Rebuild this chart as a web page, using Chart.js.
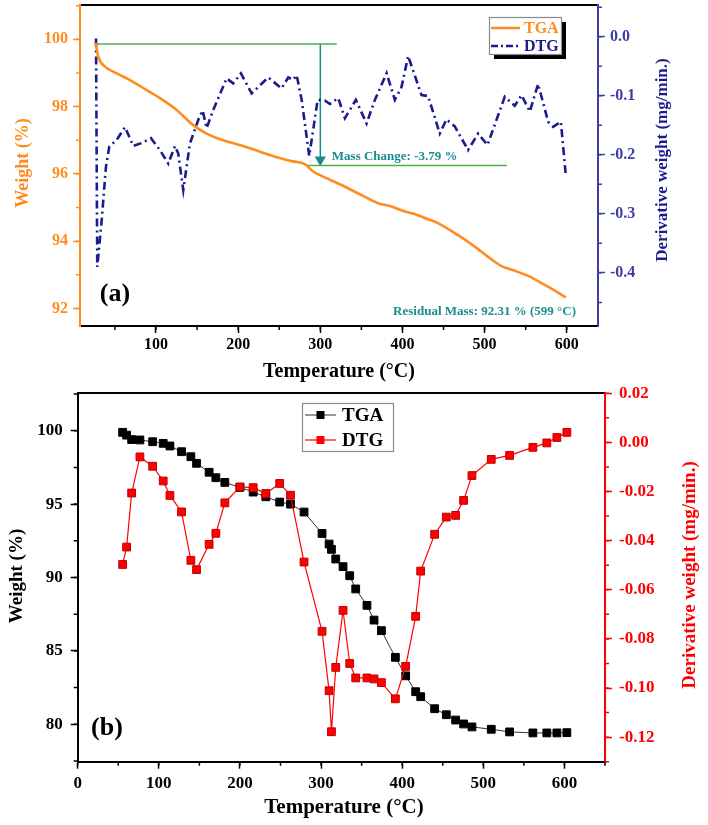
<!DOCTYPE html>
<html>
<head>
<meta charset="utf-8">
<script src="https://cdn.jsdelivr.net/npm/chart.js@4.4.1/dist/chart.umd.min.js"></script>
<style>
    html, body { margin: 0; padding: 0; background: #fff; }
    body { width: 708px; height: 825px; position: relative; overflow: hidden; }
    .panel { position: absolute; left: 0; width: 708px; }
    #box-a { top: -20px; height: 412px; }
    #box-b { top: 370px; height: 455px; }
</style>
</head>
<body>
<div class="panel" id="box-a"><canvas id="chart-a"></canvas></div>
<div class="panel" id="box-b"><canvas id="chart-b"></canvas></div>
<script>
// ---- panel (a): continuous TGA / DTG ----
const tgaTempA = [26.5, 27, 29.8, 37.9, 52.1, 68.3, 88.6, 104.8, 125.1, 145.3, 161.6, 181.8, 206.2, 226.5, 244.7, 265, 281.2, 291.3, 301.5, 325.8, 350.1, 370.4, 386.6, 402.9, 415, 431.2, 439.4, 467.7, 488, 508.3, 520.5, 536.7, 552.9, 573.2, 585.4, 598.7];
const tgaWeightA = [99.9, 99.83, 99.48, 99.19, 98.99, 98.79, 98.49, 98.25, 97.9, 97.45, 97.2, 97.0, 96.83, 96.66, 96.51, 96.38, 96.29, 96.07, 95.94, 95.67, 95.37, 95.13, 95.03, 94.88, 94.81, 94.65, 94.58, 94.18, 93.84, 93.46, 93.26, 93.12, 92.97, 92.7, 92.53, 92.33];

const dtgTempA = [27, 28.5, 33.9, 39.1, 43.2, 52.1, 62.3, 72.3, 82.6, 93.9, 104.8, 115, 123.1, 127.1, 133.2, 141.3, 151.4, 156.8, 161.6, 169.7, 186, 194, 203.4, 216.4, 236.6, 252.9, 261, 267, 271.2, 277.3, 286.5, 291.3, 296.7, 305.5, 311.6, 321.8, 329.9, 343.3, 356.3, 366.4, 380.7, 390.7, 398.9, 406.9, 423.2, 431.2, 445.4, 453.6, 463.7, 479.9, 492.1, 503.5, 524.5, 536.7, 544.9, 555, 565.1, 577.3, 583.4, 592.8, 598.6];
const dtgRateA = [-0.003, -0.39, -0.311, -0.22, -0.186, -0.175, -0.153, -0.185, -0.18, -0.172, -0.192, -0.215, -0.185, -0.198, -0.26, -0.181, -0.141, -0.125, -0.155, -0.124, -0.0705, -0.079, -0.062, -0.096, -0.069, -0.0875, -0.069, -0.073, -0.065, -0.107, -0.202, -0.158, -0.107, -0.108, -0.114, -0.104, -0.138, -0.107, -0.147, -0.107, -0.062, -0.107, -0.085, -0.0327, -0.099, -0.1005, -0.164, -0.14, -0.152, -0.192, -0.164, -0.1835, -0.1017, -0.117, -0.099, -0.127, -0.08, -0.144, -0.1525, -0.144, -0.2315];

// mass change marker lines (temperature, weight)
const startLineTemp = [28, 320];
const startLineWeight = [99.86, 99.86];
const endLineTemp = [284, 527];
const endLineWeight = [96.25, 96.25];
const arrowTemp = [300, 300];
const arrowWeight = [99.86, 96.42];

// ---- panel (b): TGA / DTG with markers ----
const tempB = [55.4, 60.3, 66.5, 76.7, 92.4, 105.4, 113.7, 128, 139.5, 146.5, 162, 170.3, 181.4, 200, 216.3, 231.9, 249, 262.3, 279, 301.2, 309.9, 312.8, 318.1, 327.1, 335.3, 342.7, 356.6, 365.3, 374.4, 391.6, 404.3, 416.6, 422.8, 440, 454.4, 465.9, 475.7, 486, 509.8, 532.4, 561.1, 578.3, 590.7, 603];
const tgaWeightB = [99.89, 99.7, 99.4, 99.37, 99.25, 99.14, 98.96, 98.57, 98.23, 97.78, 97.17, 96.8, 96.48, 96.14, 95.82, 95.5, 95.14, 95.0, 94.46, 93.0, 92.28, 91.92, 91.26, 90.74, 90.12, 89.22, 88.1, 87.1, 86.38, 84.56, 83.3, 82.22, 81.88, 81.06, 80.65, 80.29, 80.02, 79.82, 79.66, 79.48, 79.41, 79.41, 79.41, 79.43];
const dtgRateB = [-0.0497, -0.0426, -0.0206, -0.0059, -0.0097, -0.0157, -0.0216, -0.0283, -0.048, -0.0518, -0.0415, -0.037, -0.0246, -0.0181, -0.0184, -0.0208, -0.0167, -0.0215, -0.0487, -0.0769, -0.1011, -0.1178, -0.0916, -0.0684, -0.09, -0.0959, -0.0959, -0.0963, -0.0978, -0.1044, -0.0912, -0.0708, -0.0524, -0.0374, -0.0304, -0.0297, -0.0236, -0.0135, -0.0069, -0.0053, -0.002, -0.0002, 0.002, 0.0041];

const SERIF = "'Liberation Serif', 'Times New Roman', serif";
const ORANGE = "#ff8c1f";
const NAVY = "#1b1b8f";
const NAVY_AXIS = "#3d3da6";
const GREEN = "#4cae4c";
const TEAL = "#198c8c";
const RED = "#ff0000";

function points(xs, ys) {
    return xs.map((x, i) => ({ x: x, y: ys[i] }));
}

function bold(size) {
    return { family: SERIF, size: size, weight: "bold" };
}

function axis(position, min, max, step, color, size, pad, fit, fmt) {
    const horizontal = position === "bottom";
    return {
        type: "linear",
        position: position,
        min: min,
        max: max,
        afterFit: (s) => { if (horizontal) s.height = fit; else s.width = fit; },
        border: { color: color, width: 2 },
        grid: { drawOnChartArea: false, tickLength: 7, tickColor: color, tickWidth: 1.5 },
        ticks: {
            stepSize: step,
            includeBounds: false,
            color: color,
            padding: pad,
            maxRotation: 0,
            font: bold(size),
            callback: fmt || ((v) => String(v))
        }
    };
}

function topFrame(min, max, fit) {
    return {
        type: "linear",
        position: "top",
        min: min,
        max: max,
        afterFit: (s) => { s.height = fit; },
        border: { color: "#000", width: 2 },
        grid: { display: false },
        ticks: { display: false }
    };
}

function drawMinor(chart, id, step, len, color) {
    const s = chart.scales[id];
    const ctx = chart.ctx;
    ctx.save();
    ctx.strokeStyle = color;
    ctx.lineWidth = 1.5;
    ctx.beginPath();
    const first = Math.ceil(s.min / step) * step;
    for (let v = first; v <= s.max + 1e-9; v += step) {
        const p = s.getPixelForValue(v);
        if (s.isHorizontal()) {
            ctx.moveTo(p, s.top);
            ctx.lineTo(p, s.top + len);
        } else if (s.position === "left") {
            ctx.moveTo(s.right, p);
            ctx.lineTo(s.right - len, p);
        } else {
            ctx.moveTo(s.left, p);
            ctx.lineTo(s.left + len, p);
        }
    }
    ctx.stroke();
    ctx.restore();
}

// texts, notes, legend and minor ticks; cfg.top converts page y to canvas y
function decor(cfg) {
    return {
        id: "decor",
        afterDraw(chart) {
            const ctx = chart.ctx;
            const dy = cfg.top;

            for (const [id, step, len, color] of cfg.minor) {
                drawMinor(chart, id, step, len, color);
            }

            for (const n of cfg.notes) {
                ctx.save();
                ctx.font = n.font;
                ctx.fillStyle = n.color;
                ctx.textAlign = "left";
                ctx.textBaseline = "middle";
                ctx.fillText(n.text, chart.scales.x.getPixelForValue(n.x), chart.scales.y.getPixelForValue(n.y));
                ctx.restore();
            }

            for (const t of cfg.texts) {
                ctx.save();
                ctx.translate(t.x, t.y - dy);
                ctx.rotate(t.rot || 0);
                ctx.font = t.font;
                ctx.fillStyle = t.color;
                ctx.textAlign = "center";
                ctx.textBaseline = "middle";
                ctx.fillText(t.text, 0, 0);
                ctx.restore();
            }

            const lg = cfg.legend;
            const bx = lg.x, by = lg.y - dy;
            ctx.save();
            if (lg.shadow) {
                ctx.fillStyle = "#000";
                ctx.fillRect(bx + lg.shadow, by + lg.shadow, lg.w, lg.h);
            }
            ctx.fillStyle = "#fff";
            ctx.fillRect(bx, by, lg.w, lg.h);
            ctx.strokeStyle = "#8a8a8a";
            ctx.lineWidth = 1.2;
            ctx.strokeRect(bx + 0.5, by + 0.5, lg.w, lg.h);
            lg.items.forEach((it, i) => {
                const y = by + lg.rows[i];
                ctx.strokeStyle = it.color;
                ctx.lineWidth = it.width;
                ctx.setLineDash(it.dash || []);
                ctx.beginPath();
                ctx.moveTo(bx + lg.line[0], y);
                ctx.lineTo(bx + lg.line[1], y);
                ctx.stroke();
                ctx.setLineDash([]);
                if (it.marker) {
                    const mx = bx + (lg.line[0] + lg.line[1]) / 2;
                    ctx.fillStyle = it.marker;
                    ctx.fillRect(mx - 4, y - 4, 8, 8);
                }
                ctx.font = lg.font;
                ctx.fillStyle = it.text;
                ctx.textAlign = "left";
                ctx.textBaseline = "middle";
                ctx.fillText(it.label, bx + lg.textX, y + 1);
            });
            ctx.restore();
        }
    };
}

const baseOptions = {
    responsive: true,
    maintainAspectRatio: false,
    animation: false,
    events: [],
    layout: { padding: 0 },
    plugins: { legend: { display: false }, tooltip: { enabled: false } }
};

// ---------- chart (a) ----------
new Chart(document.getElementById("chart-a"), {
    type: "line",
    data: {
        datasets: [
            {
                data: points(tgaTempA, tgaWeightA),
                yAxisID: "y",
                borderColor: ORANGE,
                borderWidth: 2.6,
                pointRadius: 0,
                tension: 0.4,
                cubicInterpolationMode: "monotone"
            },
            {
                data: points(dtgTempA, dtgRateA),
                yAxisID: "y2",
                borderColor: NAVY,
                borderWidth: 2.6,
                borderDash: [8, 4, 2, 4],
                pointRadius: 0,
                tension: 0
            },
            {
                data: points(startLineTemp, startLineWeight),
                yAxisID: "y",
                borderColor: GREEN,
                borderWidth: 1.5,
                pointRadius: 0
            },
            {
                data: points(endLineTemp, endLineWeight),
                yAxisID: "y",
                borderColor: GREEN,
                borderWidth: 1.5,
                pointRadius: 0
            },
            {
                data: points(arrowTemp, arrowWeight),
                yAxisID: "y",
                borderColor: TEAL,
                borderWidth: 1.5,
                pointRadius: [0, 5],
                pointStyle: "triangle",
                rotation: 180,
                pointBackgroundColor: TEAL,
                pointBorderColor: TEAL
            }
        ]
    },
    options: {
        ...baseOptions,
        scales: {
            x: axis("bottom", 7.5, 638, 100, "#000", 16, 2, 66),
            x2: topFrame(7.5, 638, 25),
            y: axis("left", 91.48, 101.02, 2, ORANGE, 16, 5, 80),
            y2: axis("right", -0.49, 0.0537, 0.1, NAVY_AXIS, 16, 5, 110,
                (v) => (Math.abs(v) < 1e-9 ? 0 : v).toFixed(1))
        }
    },
    plugins: [decor({
        top: -20,
        minor: [["x", 50, 4, "#000"], ["y", 1, 4, ORANGE], ["y2", 0.05, 4, NAVY_AXIS]],
        notes: [
            { text: "Mass Change: -3.79 %", x: 314, y: 96.5, font: "bold 13px " + SERIF, color: TEAL },
            { text: "Residual Mass: 92.31 % (599 °C)", x: 388.6, y: 91.9, font: "bold 13px " + SERIF, color: TEAL }
        ],
        texts: [
            { text: "Weight (%)", x: 23, y: 163, rot: -Math.PI / 2, font: "bold 18px " + SERIF, color: ORANGE },
            { text: "Derivative weight (mg/min.)", x: 663, y: 160, rot: -Math.PI / 2, font: "bold 17px " + SERIF, color: NAVY },
            { text: "Temperature (°C)", x: 339, y: 372, font: "bold 20px " + SERIF, color: "#000" },
            { text: "(a)", x: 115, y: 294, font: "bold 26px " + SERIF, color: "#000" }
        ],
        legend: {
            x: 489, y: 17, w: 72, h: 37, shadow: 5,
            rows: [11, 29], line: [2, 31], textX: 35,
            font: "bold 16px " + SERIF,
            items: [
                { label: "TGA", color: ORANGE, width: 2.5, text: ORANGE },
                { label: "DTG", color: NAVY, width: 2.5, dash: [7, 3, 2, 3], text: NAVY }
            ]
        }
    })]
});

// ---------- chart (b) ----------
new Chart(document.getElementById("chart-b"), {
    type: "line",
    data: {
        datasets: [
            {
                data: points(tempB, tgaWeightB),
                yAxisID: "y",
                order: 1,
                borderColor: "#333",
                borderWidth: 1,
                pointStyle: "rect",
                pointRadius: 5.5,
                pointBackgroundColor: "#000",
                pointBorderColor: "#000",
                pointBorderWidth: 1,
                tension: 0
            },
            {
                data: points(tempB, dtgRateB),
                yAxisID: "y2",
                order: 0,
                borderColor: RED,
                borderWidth: 1.2,
                pointStyle: "rect",
                pointRadius: 5.5,
                pointBackgroundColor: RED,
                pointBorderColor: "#c00000",
                pointBorderWidth: 1,
                tension: 0
            }
        ]
    },
    options: {
        ...baseOptions,
        scales: {
            x: axis("bottom", 0, 650, 100, "#000", 17, 5, 63.3),
            x2: topFrame(0, 650, 23.3),
            y: axis("left", 77.45, 102.55, 5, "#000", 17, 8, 77.7),
            y2: axis("right", -0.13, 0.02, 0.02, RED, 17, 7, 103,
                (v) => (Math.abs(v) < 1e-9 ? 0 : v).toFixed(2))
        }
    },
    plugins: [decor({
        top: 370,
        minor: [["x", 50, 4, "#000"], ["y", 2.5, 4, "#000"], ["y2", 0.01, 4, RED]],
        notes: [],
        texts: [
            { text: "Weight (%)", x: 17, y: 576, rot: -Math.PI / 2, font: "bold 19px " + SERIF, color: "#000" },
            { text: "Derivative weight (mg/min.)", x: 690, y: 575, rot: -Math.PI / 2, font: "bold 19px " + SERIF, color: RED },
            { text: "Temperature (°C)", x: 344, y: 808, font: "bold 21px " + SERIF, color: "#000" },
            { text: "(b)", x: 107, y: 728, font: "bold 26px " + SERIF, color: "#000" }
        ],
        legend: {
            x: 302, y: 403, w: 91, h: 48, shadow: 0,
            rows: [12, 37], line: [3, 34], textX: 40,
            font: "bold 19px " + SERIF,
            items: [
                { label: "TGA", color: "#333", width: 1, marker: "#000", text: "#000" },
                { label: "DTG", color: RED, width: 1.2, marker: RED, text: "#000" }
            ]
        }
    })]
});
</script>
</body>
</html>
